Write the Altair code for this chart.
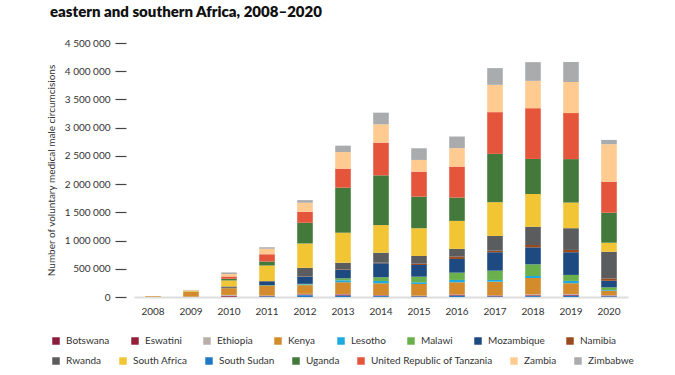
import altair as alt
import pandas as pd

years = [str(y) for y in range(2008, 2021)]

countries = ["Botswana", "Eswatini", "Ethiopia", "Kenya", "Lesotho", "Malawi",
             "Mozambique", "Namibia", "Rwanda", "South Africa", "South Sudan",
             "Uganda", "United Republic of Tanzania", "Zambia", "Zimbabwe"]
colors = ["#8C1B3E", "#951F3A", "#B7AFA8", "#D38B2B", "#1DAAE0", "#6AB14E",
          "#1D4A80", "#9A4A1F", "#5A5C5E", "#F1C533", "#1F78C3", "#437A3B",
          "#E5553B", "#FFCB91", "#A9ABAD"]
# bottom-to-top stacking order seen in the bars
stack_order = ["South Sudan", "Botswana", "Eswatini", "Ethiopia", "Kenya", "Lesotho",
               "Malawi", "Mozambique", "Namibia", "Rwanda", "South Africa",
               "Uganda", "United Republic of Tanzania", "Zambia", "Zimbabwe"]

# values in thousands, 2008..2020
botswana     = [0, 2, 10, 8, 10, 12, 10, 8, 10, 10, 10, 12, 8]
eswatini     = [0, 1, 12, 5, 8, 12, 6, 5, 12, 8, 8, 10, 8]
ethiopia     = [0, 5, 15, 5, 8, 8, 5, 3, 6, 5, 15, 12, 8]
kenya        = [12, 85, 119, 170, 154, 207, 207, 207, 213, 241, 289, 190, 76]
lesotho      = [0, 0, 0, 3, 12, 35, 41, 30, 41, 30, 35, 41, 12]
malawi       = [0, 1, 2, 8, 11, 35, 66, 99, 129, 165, 207, 106, 48]
mozambique   = [0, 0, 3, 60, 130, 147, 248, 207, 243, 326, 301, 402, 117]
namibia      = [0, 0, 1, 3, 5, 10, 10, 23, 41, 28, 41, 41, 43]
rwanda       = [0, 3, 25, 10, 149, 119, 177, 137, 137, 261, 324, 385, 472]
south_africa = [2, 10, 106, 275, 431, 532, 489, 491, 496, 598, 580, 454, 160]
south_sudan  = [0, 0, 0, 10, 30, 22, 15, 8, 20, 8, 15, 20, 10]
uganda       = [0, 3, 30, 71, 367, 798, 881, 560, 413, 856, 621, 770, 532]
tanzania     = [0, 2, 41, 131, 195, 337, 580, 443, 550, 739, 899, 816, 550]
zambia       = [1, 10, 43, 94, 160, 294, 324, 207, 326, 484, 484, 550, 663]
zimbabwe     = [1, 3, 28, 30, 46, 113, 207, 207, 206, 296, 332, 355, 76]

series = [botswana, eswatini, ethiopia, kenya, lesotho, malawi, mozambique, namibia,
          rwanda, south_africa, south_sudan, uganda, tanzania, zambia, zimbabwe]

y_ticks = [0, 500000, 1000000, 1500000, 2000000, 2500000, 3000000, 3500000, 4000000, 4500000]

# legend rows as in the reference
row1 = countries[:8]
row2 = countries[8:]

rows = []
for c, vals in zip(countries, series):
    for yr, v in zip(years, vals):
        rows.append({"year": yr, "country": c, "value": v * 1000,
                     "rank": stack_order.index(c),
                     "row": 1 if c in row1 else 2})
df = pd.DataFrame(rows)

FONT = "Lato"

x_enc = alt.X("year:O", title=None,
              scale=alt.Scale(paddingInner=0.59, paddingOuter=0.295),
              axis=alt.Axis(labelAngle=0, ticks=False, tickSize=0, labelPadding=9,
                            labelFontSize=10, labelColor="#333333", labelFont=FONT,
                            domainColor="#DDDDDD", domainWidth=2))
y_enc = alt.Y("y0:Q",
              title="Number of voluntary medical male circumcisions",
              scale=alt.Scale(domain=[0, 4500000], nice=False),
              axis=alt.Axis(values=y_ticks, grid=False, domain=False, offset=8,
                            tickSize=11, tickColor="#444444", tickWidth=1.2,
                            labelPadding=5, labelFontSize=10, labelColor="#333333",
                            labelFont=FONT,
                            labelExpr="replace(format(datum.value, ','), regexp(',', 'g'), ' ')",
                            titleFont=FONT, titleFontSize=10, titleFontWeight="normal",
                            titleColor="#333333", titlePadding=8))


def legend(ly, gap):
    return alt.Legend(title=None, orient="none", legendX=-83, legendY=ly,
                      direction="horizontal", columnPadding=gap, padding=0,
                      symbolType="square", symbolSize=56, symbolStrokeWidth=0,
                      labelOffset=5, labelFontSize=10, labelFont=FONT,
                      labelColor="#333333", labelLimit=300)


base = alt.Chart(df).transform_stack(
    stack="value", groupby=["year"], as_=["y0", "y1"],
    sort=[alt.SortField("rank", order="ascending")]
)

layer1 = base.transform_filter(alt.datum.row == 1).mark_bar().encode(
    x=x_enc, y=y_enc, y2="y1:Q",
    color=alt.Color("country:N",
                    scale=alt.Scale(domain=row1, range=colors[:8]),
                    legend=legend(293, 20)),
)
layer2 = base.transform_filter(alt.datum.row == 2).mark_bar().encode(
    x=x_enc, y=y_enc, y2="y1:Q",
    color=alt.Color("country:N",
                    scale=alt.Scale(domain=row2, range=colors[8:]),
                    legend=legend(313, 16)),
)

chart = alt.layer(layer1, layer2).resolve_scale(color="independent").properties(
    width=494, height=254,
    title=alt.TitleParams("eastern and southern Africa, 2008–2020", anchor="start",
                          frame="group", dx=-84, offset=18, font=FONT, fontSize=15,
                          fontWeight=800, color="#111111"),
    autosize=alt.AutoSizeParams(type="none"),
    padding={"left": 134, "top": 43, "right": 47, "bottom": 78},
    background="white",
).configure_view(stroke=None)

chart.save("out.html", embed_options={"renderer": "svg", "actions": False})
